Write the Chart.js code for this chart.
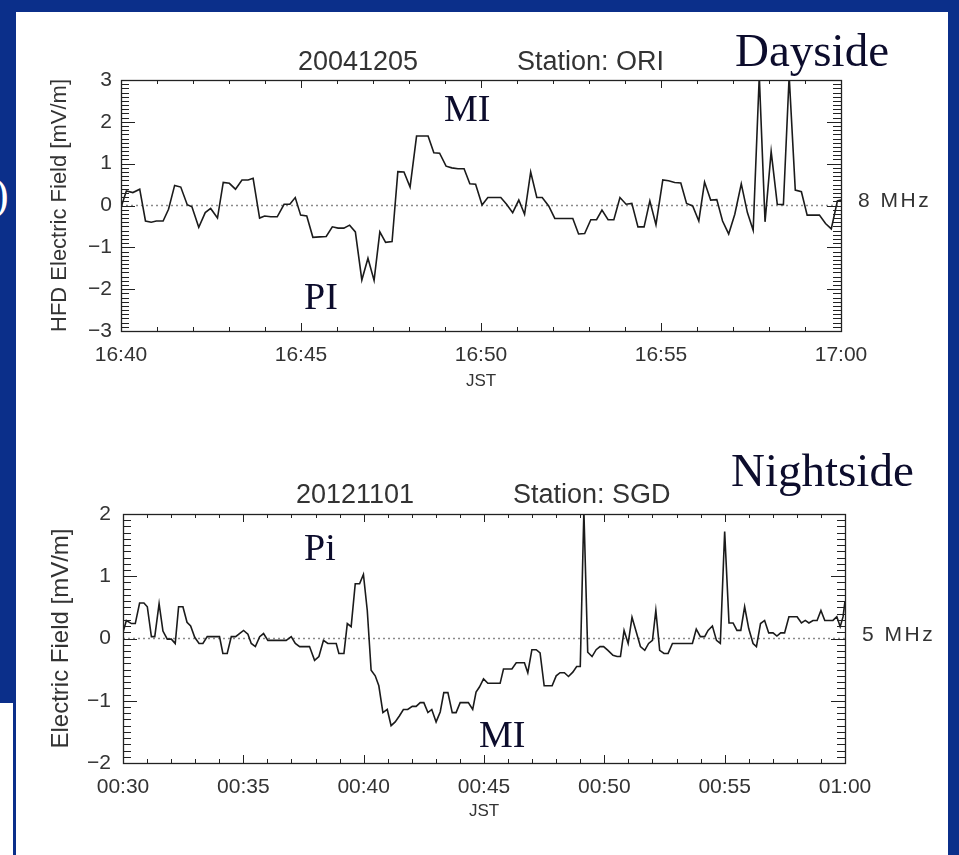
<!DOCTYPE html>
<html>
<head>
<meta charset="utf-8">
<script src="https://cdn.jsdelivr.net/npm/chart.js@4.4.1/dist/chart.umd.min.js"></script>
<style>
  html, body { margin: 0; padding: 0; }
  body { width: 959px; height: 855px; background: #0b2f8a; position: relative; overflow: hidden; }
  #panel { position: absolute; left: 16px; top: 12px; width: 932px; height: 843px; background: #fff; }
  #patch { position: absolute; left: 0; top: 703px; width: 13px; height: 152px; background: #fff; }
  canvas { position: absolute; left: 0; }
  .t { position: absolute; white-space: nowrap; line-height: 1; }
  .hdr { font-family: "Liberation Sans", Arial, sans-serif; font-size: 27px; color: #333; }
  .ann { font-family: "Liberation Serif", "Times New Roman", serif; color: #0c0c2c; }
  .mhz { font-family: "Liberation Sans", Arial, sans-serif; font-size: 21px; color: #333; letter-spacing: 2.5px; }
  .paren { font-family: "Liberation Serif", serif; color: #fff; font-size: 44px; }
</style>
</head>
<body>
<div id="panel"></div>
<div id="patch"></div>
<div class="t paren" style="left:-6px; top:173px;">)</div>

<canvas id="c1" width="959" height="430" style="top:0px"></canvas>
<canvas id="c2" width="959" height="425" style="top:430px"></canvas>

<div class="t hdr" style="left:298px; top:48px;">20041205</div>
<div class="t hdr" style="left:517px; top:48px;">Station: ORI</div>
<div class="t ann" style="left:735px; top:27px; font-size:47px;">Dayside</div>
<div class="t ann" style="left:444px; top:89px; font-size:38px;">MI</div>
<div class="t ann" style="left:304px; top:277px; font-size:38px;">PI</div>
<div class="t mhz" style="left:858px; top:189px;">8 MHz</div>

<div class="t hdr" style="left:296px; top:481px;">20121101</div>
<div class="t hdr" style="left:513px; top:481px;">Station: SGD</div>
<div class="t ann" style="left:731px; top:447px; font-size:47px;">Nightside</div>
<div class="t ann" style="left:304px; top:528px; font-size:38px;">Pi</div>
<div class="t ann" style="left:479px; top:715px; font-size:38px;">MI</div>
<div class="t mhz" style="left:862px; top:623px;">5 MHz</div>

<script>
// ---------- DATA ----------
// Dayside, 2004-12-05, station ORI, 8 MHz (minutes after 16:40 JST)
const dayTicks = ["16:40", "16:45", "16:50", "16:55", "17:00"];
const dayMinutes = [0.0,0.15,0.33,0.52,0.68,0.84,0.98,1.17,1.32,1.49,1.66,1.84,1.97,2.16,2.34,2.49,2.68,2.84,3.01,3.18,3.36,3.53,3.67,3.85,3.99,4.16,4.34,4.53,4.69,4.84,4.99,5.16,5.33,5.52,5.70,5.87,6.03,6.19,6.35,6.51,6.69,6.86,7.03,7.19,7.35,7.53,7.69,7.86,8.03,8.21,8.36,8.53,8.69,8.85,9.03,9.19,9.36,9.53,9.69,9.85,10.03,10.19,10.36,10.55,10.71,10.88,11.05,11.21,11.38,11.55,11.70,11.88,12.05,12.21,12.38,12.55,12.71,12.88,13.05,13.21,13.36,13.53,13.69,13.86,14.03,14.19,14.36,14.53,14.69,14.86,15.05,15.21,15.38,15.55,15.71,15.88,16.05,16.21,16.38,16.55,16.71,16.88,17.05,17.23,17.40,17.56,17.73,17.89,18.06,18.23,18.40,18.56,18.73,18.90,19.06,19.23,19.40,19.57,19.73,19.90,20.0];
const dayField = [-0.05,0.35,0.31,0.39,-0.37,-0.40,-0.37,-0.37,-0.09,0.48,0.44,0.02,-0.03,-0.52,-0.17,-0.07,-0.30,0.55,0.53,0.39,0.61,0.61,0.65,-0.30,-0.25,-0.27,-0.27,0.03,0.03,0.19,-0.23,-0.25,-0.76,-0.75,-0.74,-0.51,-0.54,-0.54,-0.47,-0.63,-1.78,-1.26,-1.79,-0.63,-0.88,-0.86,0.81,0.80,0.44,1.66,1.66,1.66,1.26,1.25,0.94,0.90,0.88,0.88,0.52,0.51,0.01,0.19,0.19,0.19,0.03,-0.17,0.13,-0.21,0.80,0.19,0.19,-0.01,-0.31,-0.31,-0.31,-0.31,-0.68,-0.67,-0.34,-0.34,-0.11,-0.34,-0.34,0.19,0.03,0.05,-0.51,-0.51,0.11,-0.46,0.61,0.59,0.55,0.54,0.05,-0.01,-0.37,0.56,0.13,0.14,-0.37,-0.68,-0.21,0.52,-0.17,-0.59,3.1,-0.39,1.29,0.03,0.02,3.1,0.37,0.33,-0.23,-0.23,-0.23,-0.43,-0.56,0.11,0.13];

// Nightside, 2012-11-01, station SGD, 5 MHz (minutes after 00:30 JST)
const nightTicks = ["00:30", "00:35", "00:40", "00:45", "00:50", "00:55", "01:00"];
const nightMinutes = [0,0.14,0.35,0.51,0.69,0.87,1.01,1.18,1.32,1.50,1.66,1.84,2.01,2.17,2.31,2.49,2.66,2.81,2.98,3.16,3.32,3.50,3.67,3.88,4.01,4.15,4.33,4.50,4.68,4.84,5.01,5.19,5.33,5.50,5.68,5.84,6.02,6.19,6.37,6.58,6.78,6.99,7.16,7.34,7.52,7.75,7.96,8.14,8.33,8.51,8.69,8.86,8.97,9.18,9.32,9.48,9.65,9.83,9.99,10.15,10.31,10.48,10.63,10.80,10.98,11.14,11.31,11.49,11.65,11.83,12.02,12.18,12.35,12.50,12.67,12.83,13.01,13.18,13.33,13.50,13.68,13.84,14.01,14.19,14.35,14.53,14.67,14.81,14.98,15.16,15.32,15.50,15.67,15.81,15.99,16.16,16.34,16.52,16.68,16.82,16.99,17.17,17.33,17.50,17.65,17.83,18.00,18.16,18.34,18.51,18.69,18.85,19.00,19.15,19.31,19.49,19.66,19.82,19.97,20.15,20.36,20.53,20.67,20.82,20.99,21.15,21.33,21.50,21.68,21.84,22.00,22.14,22.30,22.48,22.65,22.83,23.00,23.16,23.34,23.50,23.66,23.82,23.99,24.17,24.31,24.49,24.66,24.82,25.00,25.18,25.35,25.51,25.67,25.83,26.00,26.18,26.32,26.49,26.66,26.83,27.01,27.17,27.33,27.49,27.67,27.84,28.01,28.19,28.35,28.50,28.67,28.84,29.00,29.16,29.33,29.50,29.66,29.80,29.92,30.00];
const nightField = [0.10,0.29,0.24,0.24,0.57,0.57,0.51,0.03,0.03,0.56,0.12,-0.01,-0.01,-0.08,0.51,0.51,0.26,0.20,0.02,-0.08,-0.08,0.03,0.03,0.03,0.03,-0.24,-0.24,0.03,0.03,0.08,0.13,0.07,-0.08,-0.13,0.03,0.08,-0.03,-0.03,-0.03,-0.03,-0.03,0.03,-0.08,-0.13,-0.13,-0.13,-0.35,-0.29,-0.03,-0.08,-0.08,-0.08,-0.24,-0.24,0.24,0.19,0.88,0.88,1.03,0.45,-0.51,-0.60,-0.76,-1.19,-1.14,-1.40,-1.34,-1.24,-1.14,-1.14,-1.09,-1.09,-1.03,-1.03,-1.19,-1.14,-1.34,-1.18,-0.87,-0.87,-1.19,-1.19,-1.03,-1.03,-1.03,-1.14,-0.86,-0.78,-0.65,-0.72,-0.72,-0.72,-0.72,-0.49,-0.49,-0.49,-0.39,-0.39,-0.39,-0.55,-0.18,-0.18,-0.23,-0.76,-0.76,-0.76,-0.60,-0.55,-0.55,-0.61,-0.54,-0.45,-0.45,2.05,-0.22,-0.29,-0.18,-0.13,-0.13,-0.19,-0.27,-0.29,-0.29,0.13,-0.08,0.34,0.10,-0.13,-0.19,-0.08,-0.03,0.45,-0.19,-0.24,-0.24,-0.08,-0.08,-0.08,-0.08,-0.08,-0.08,0.15,0.03,0.03,0.13,0.20,-0.03,-0.08,1.72,0.25,0.25,0.13,0.13,0.51,0.16,-0.08,-0.13,0.24,0.29,0.09,0.09,0.04,0.09,0.09,0.35,0.35,0.35,0.25,0.29,0.25,0.29,0.29,0.45,0.29,0.29,0.29,0.35,0.19,0.35,0.60];

// ---------- helpers ----------
const pts = (xs, ys) => xs.map((x, i) => ({ x: x, y: ys[i] }));
const fmtY = v => (v < 0 ? '\u2212' + Math.abs(v) : String(v));

const idlAxes = {
  id: 'idlAxes',
  afterDatasetsDraw(chart, args, o) {
    const { ctx, chartArea: a, scales: { x, y } } = chart;
    ctx.save();
    ctx.strokeStyle = '#222';
    ctx.lineWidth = 1;
    ctx.beginPath();
    const nx = Math.round((x.max - x.min) / o.xMinor);
    for (let i = 0; i <= nx; i++) {
      const v = x.min + i * o.xMinor;
      const px = Math.round(x.getPixelForValue(v)) + 0.5;
      const major = (i % o.xPer) === 0;
      const L = major ? o.xMajorLen : o.xMinorLen;
      ctx.moveTo(px, a.bottom); ctx.lineTo(px, a.bottom - L);
      ctx.moveTo(px, a.top); ctx.lineTo(px, a.top + L);
    }
    const ny = Math.round((y.max - y.min) / o.yMinor);
    for (let i = 0; i <= ny; i++) {
      const v = y.min + i * o.yMinor;
      const py = Math.round(y.getPixelForValue(v)) + 0.5;
      const major = (i % o.yPer) === 0;
      const L = major ? o.yMajorLen : o.yMinorLen;
      ctx.moveTo(a.left, py); ctx.lineTo(a.left + L, py);
      ctx.moveTo(a.right, py); ctx.lineTo(a.right - L, py);
    }
    ctx.stroke();
    ctx.lineWidth = 1.3;
    ctx.strokeRect(Math.round(a.left) + 0.5, Math.round(a.top) + 0.5, Math.round(a.right - a.left), Math.round(a.bottom - a.top));
    ctx.restore();
  }
};

function makeChart(id, xs, ys, tickLabels, xMax, yMin, yMax, yTitle, yTitleSize, pad, yWidth, yTickPad, titlePadB) {
  return new Chart(document.getElementById(id), {
    type: 'line',
    data: {
      datasets: [
        { data: pts(xs, ys), borderColor: '#1b1b1b', borderWidth: 1.6, pointRadius: 0, tension: 0, order: 1 },
        { data: [{ x: 0, y: 0 }, { x: xMax, y: 0 }], borderColor: '#8a8a8a', borderWidth: 1.3, borderDash: [2, 3], pointRadius: 0, order: 2 }
      ]
    },
    options: {
      responsive: false,
      animation: false,
      devicePixelRatio: 1,
      layout: { padding: pad },
      plugins: {
        legend: { display: false },
        tooltip: { enabled: false },
        idlAxes: { xMinor: 1, xPer: 5, xMajorLen: 8, xMinorLen: 4, yMinor: 0.1, yPer: 10, yMajorLen: 14, yMinorLen: 8 }
      },
      scales: {
        x: {
          type: 'linear', min: 0, max: xMax,
          grid: { display: false, drawTicks: false },
          border: { display: false },
          ticks: {
            stepSize: 5, autoSkip: false, maxRotation: 0, padding: 12,
            color: '#333', font: { family: 'Liberation Sans', size: 21 },
            callback: v => tickLabels[Math.round(v / 5)]
          },
          title: { display: true, text: 'JST', color: '#333', font: { family: 'Liberation Sans', size: 17 }, padding: { top: 0, bottom: titlePadB } },
          afterFit: s => { s.height = 62; }
        },
        y: {
          min: yMin, max: yMax,
          grid: { display: false, drawTicks: false },
          border: { display: false },
          ticks: {
            stepSize: 1, padding: yTickPad, color: '#333',
            font: { family: 'Liberation Sans', size: 21 },
            callback: v => fmtY(v)
          },
          title: { display: true, text: yTitle, color: '#333', font: { family: 'Liberation Sans', size: yTitleSize }, padding: { top: 0, bottom: 0 } },
          afterFit: s => { s.width = yWidth; }
        }
      }
    },
    plugins: [idlAxes]
  });
}

makeChart('c1', dayMinutes, dayField, dayTicks, 20, -3, 3, 'HFD Electric Field [mV/m]', 22,
  { left: 47, top: 80, right: 118, bottom: 37 }, 74, 9, 1);
makeChart('c2', nightMinutes, nightField, nightTicks, 30, -2, 2, 'Electric Field [mV/m]', 24,
  { left: 47, top: 84, right: 114, bottom: 30 }, 76, 12, 3);
</script>
</body>
</html>
